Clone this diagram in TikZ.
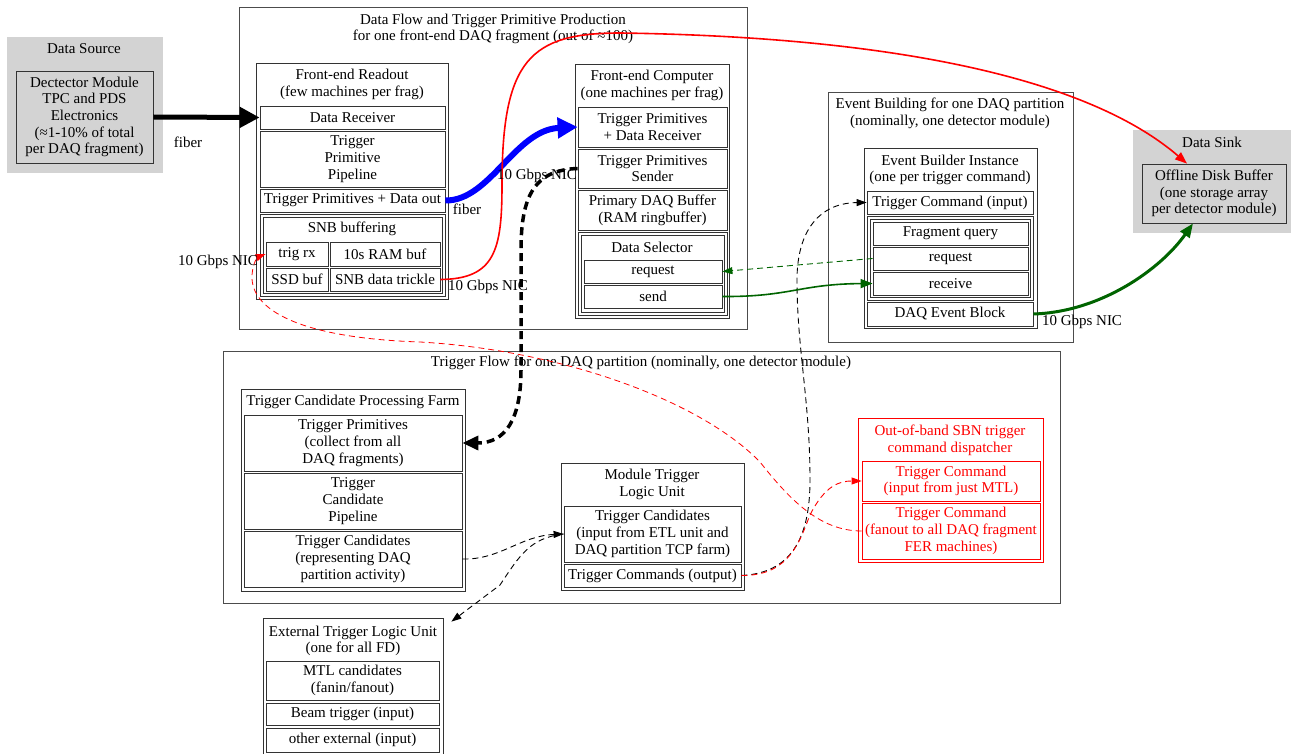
\documentclass[tikz,border=0pt]{standalone}
\usepackage{fontspec}
\setmainfont{Liberation Serif}
\usetikzlibrary{arrows.meta,calc}
\definecolor{gv}{HTML}{D3D3D3}
\definecolor{gvgreen}{HTML}{006400}
\newcommand\bx[7][]{\node[bxs,#1,minimum width={(#5)-(#3)},minimum height={(#6)-(#4)}] (#2) at ({((#3)+(#5))/2},{((#4)+(#6))/2}) {#7};}
\begin{document}
\begin{tikzpicture}[x=1pt,y=-1pt,
 every node/.style={font=\fontsize{15}{16.7}\selectfont},
 bxs/.style={draw=black!80,line width=0.8pt,inner sep=0pt,align=center,rectangle},
 cluster/.style={draw=black!70,line width=1pt},
 graycl/.style={draw=gv,fill=gv},
 txt/.style={inner sep=0pt,align=center},
 redbox/.style={draw=red,text=red},
 edash/.style={line width=0.9pt,dash pattern=on 6pt off 4pt},
 tipsmall/.style={-{Triangle[length=10pt,width=7pt]}},
 tipmid/.style={-{Triangle[length=12pt,width=9pt]}},
 tipbig/.style={-{Triangle[length=20pt,width=20pt]}}
]
\useasboundingbox (0,0) rectangle (1291,754);

% Data Source
\bx[graycl]{dsrc}{7}{37}{162}{172}{}
\node[txt] (dsrct) at (84,49) {Data Source};
\bx[fill=gv]{detmod}{16}{71}{153}{163}{Dectector Module\\TPC and PDS\\Electronics\\(≈1-10\% of total\\per DAQ fragment)}

% Data Flow cluster
\bx[cluster]{dfcl}{239}{8}{747}{329}{}
\node[txt] (dft) at (493,29) {Data Flow and Trigger Primitive Production\\for one front-end DAQ fragment (out of ≈100)};

% Front-end Readout
\bx{fer}{256}{63}{448}{299}{}
\node[txt] (fert) at (352,84.5) {Front-end Readout\\(few machines per frag)};
\bx{datarecv}{260}{106}{445}{129}{Data Receiver}
\bx{tpp}{260}{131}{445}{187}{Trigger\\Primitive\\Pipeline}
\bx{tpout}{260}{189}{445}{212}{Trigger Primitives + Data out}
\bx{snb}{260}{214}{445}{296}{}
\bx{snbin}{263}{217}{442}{293}{}
\node[txt] (snbt) at (352,229) {SNB buffering};
\bx{trigrx}{266}{242}{328}{266}{trig rx}
\bx{ram}{330}{242}{440}{266}{10s RAM buf}
\bx{ssd}{266}{268}{328}{291}{SSD buf}
\bx{trickle}{330}{268}{440}{291}{SNB data trickle}

% Front-end Computer
\bx{fec}{575}{64}{729}{318}{}
\node[txt] (fect) at (652,85.5) {Front-end Computer\\(one machines per frag)};
\bx{tprecv}{578}{107}{727}{147}{Trigger Primitives\\+ Data Receiver}
\bx{tpsend}{578}{149}{727}{188}{Trigger Primitives\\Sender}
\bx{pdb}{578}{190}{727}{230}{Primary DAQ Buffer\\(RAM ringbuffer)}
\bx{dsel}{578}{232}{727}{315}{}
\bx{dselin}{581}{235}{724}{312}{}
\node[txt] (dselt) at (652,247) {Data Selector};
\bx{dsreq}{584}{260}{722}{283}{request}
\bx{dssend}{584}{285}{722}{308}{send}

% Event Building
\bx[cluster]{ebcl}{828}{93}{1073}{342}{}
\node[txt] (ebclt) at (950,113.5) {Event Building for one DAQ partition\\(nominally, one detector module)};
\bx{ebi}{864}{148}{1037}{328}{}
\node[txt] (ebit) at (950,170) {Event Builder Instance\\(one per trigger command)};
\bx{ebtrig}{867}{191}{1033}{214}{Trigger Command (input)}
\bx{ebcell}{867}{216}{1033}{300}{}
\bx{ebcellin}{870}{219}{1030}{297}{}
\bx{fragq}{873}{222}{1028}{245}{Fragment query}
\bx{ebreq}{873}{247}{1028}{270}{request}
\bx{ebrecv}{873}{272}{1028}{295}{receive}
\bx{daqeb}{867}{302}{1033}{326}{DAQ Event Block}

% Data Sink
\bx[graycl]{dsink}{1133}{130}{1291}{232}{}
\node[txt] (dsinkt) at (1212,142) {Data Sink};
\bx[fill=gv]{odb}{1142}{164}{1286}{223}{Offline Disk Buffer\\(one storage array\\per detector module)}

% Trigger Flow
\bx[cluster]{tfcl}{223}{351}{1060}{603}{}
\node[txt] (tfclt) at (641,363) {Trigger Flow for one DAQ partition (nominally, one detector module)};
\bx{tcpf}{241}{389}{465}{591}{}
\node[txt] (tcpft) at (353,402) {Trigger Candidate Processing Farm};
\bx{tpcoll}{244}{415}{462}{471}{Trigger Primitives\\(collect from all\\DAQ fragments)}
\bx{tcpipe}{244}{473}{462}{529}{Trigger\\Candidate\\Pipeline}
\bx{tcrep}{244}{531}{462}{587}{Trigger Candidates\\(representing DAQ\\partition activity)}

\bx{mtlu}{561}{463}{744}{590}{}
\node[txt] (mtlut) at (652,484.5) {Module Trigger\\Logic Unit};
\bx{mtcin}{564}{506}{741}{562}{Trigger Candidates\\(input from ETL unit and\\DAQ partition TCP farm)}
\bx{mtcout}{564}{564}{741}{587}{Trigger Commands (output)}

\bx[redbox]{oob}{858}{418}{1043}{562}{}
\node[txt,text=red] (oobt) at (950,440) {Out-of-band SBN trigger\\command dispatcher};
\bx[redbox]{oobin}{862}{461}{1040}{501}{Trigger Command\\(input from just MTL)}
\bx[redbox]{oobfan}{862}{503}{1040}{559}{Trigger Command\\(fanout to all DAQ fragment\\FER machines)}

% External TLU
\bx{etlu}{263}{618}{443}{762}{}
\node[txt] (etlut) at (353,641) {External Trigger Logic Unit\\(one for all FD)};
\bx{mtlcand}{266}{661}{439}{700}{MTL candidates\\(fanin/fanout)}
\bx{beam}{266}{703}{439}{725}{Beam trigger (input)}
\bx{other}{266}{728}{439}{752}{other external (input)}

% ---- edges ----
\draw[line width=5pt,tipbig] (detmod.east) -- (datarecv.west);
\node[txt] (lfiber1) at (188,142) {fiber};

\draw[blue,line width=6pt,tipbig] (tpout.east) .. controls (490,201) and (515,130) .. (tprecv.west);
\node[txt] (lfiber2) at (467,209) {fiber};

\draw[red,line width=1.6pt,tipmid] (trickle.east) .. controls (495,279) and (502,250) .. (502,185) .. controls (502,60) and (530,33) .. (620,33) .. controls (900,37) and (1090,80) .. ($(odb.north)+(-27,0)$);
\node[txt] (lnic1) at (488,287) {10 Gbps NIC};

\draw[line width=3.5pt,dash pattern=on 8pt off 5pt,-{Triangle[length=16pt,width=14pt]}] (tpsend.west) .. controls (535,170) and (521,195) .. (521,250) -- (521,370) .. controls (521,420) and (505,443) .. (tpcoll.east);
\node[txt] (lnic2) at (537,176) {10 Gbps NIC};

\draw[edash,tipsmall] (mtcout.east) .. controls (790,573) and (810,540) .. (810,480) .. controls (810,400) and (797,350) .. (797,280) .. controls (797,230) and (820,203) .. (ebtrig.west);

\draw[edash,red,tipsmall] (mtcout.east) .. controls (790,576) and (800,540) .. (810,515) .. controls (825,485) and (840,481) .. (oobin.west);

\draw[edash,red,line width=0.8pt,tipsmall] (oobfan.west) .. controls (820,531) and (790,500) .. (760,462) .. controls (700,400) and (560,350) .. (420,342) .. controls (300,338) and (250,310) .. (252,275) .. controls (253,262) and (258,257) .. (trigrx.west);
\node[txt] (lnic3) at (218,262) {10 Gbps NIC};

\draw[edash,gvgreen,tipsmall] (ebreq.west) -- (dsreq.east);
\draw[gvgreen,line width=1.6pt,tipmid] (dssend.east) .. controls (790,297) and (800,284) .. (ebrecv.west);
\draw[gvgreen,line width=3pt,-{Triangle[length=14pt,width=11pt]}] (daqeb.east) .. controls (1100,312) and (1160,270) .. ($(odb.south)+(-21,0)$);
\node[txt] (lnic4) at (1082,322) {10 Gbps NIC};

\draw[edash,tipsmall] (tcrep.east) .. controls (500,560) and (520,536) .. (mtcin.west);
\draw[edash,tipsmall] (mtcin.west) .. controls (530,538) and (520,555) .. (500,585) -- ($(etlu.north east)+(8,4)$);
\end{tikzpicture}
\end{document}
